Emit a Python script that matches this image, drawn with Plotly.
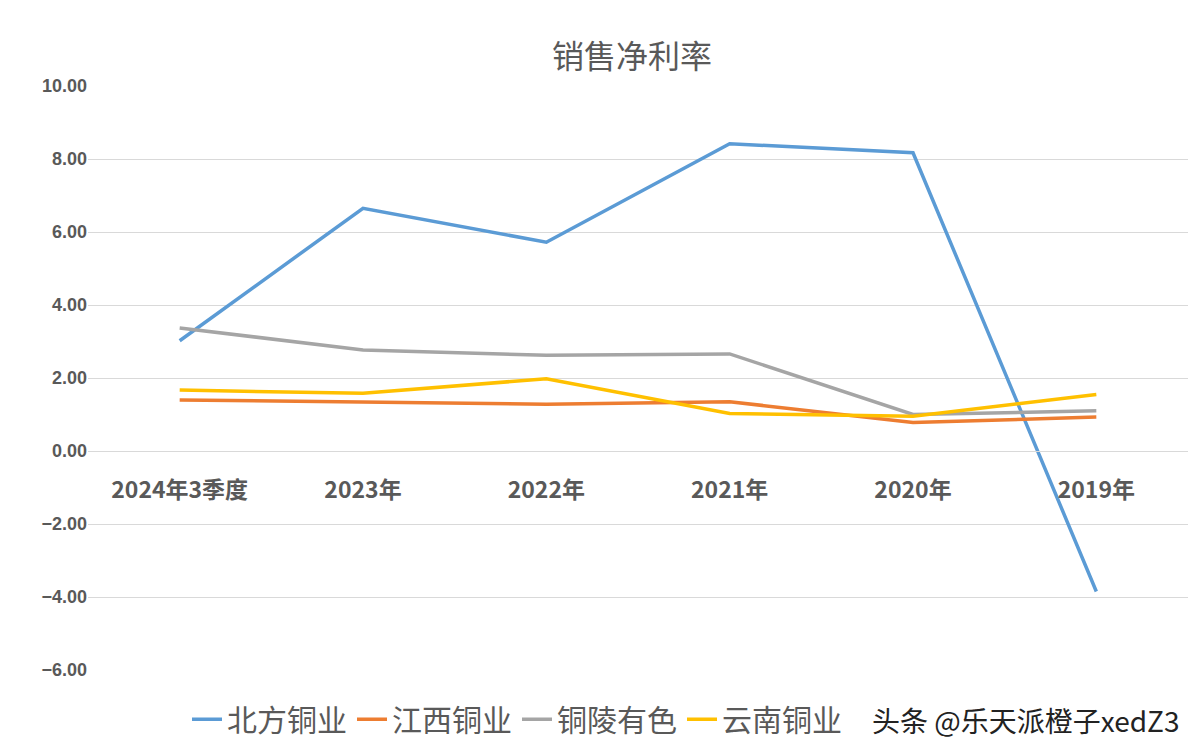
import plotly.graph_objects as go

categories = ['2024年3季度', '2023年', '2022年', '2021年', '2020年', '2019年']
beifang = [3.02, 6.65, 5.72, 8.42, 8.17, -3.85]
jiangxi = [1.40, 1.35, 1.28, 1.35, 0.78, 0.93]
tongling = [3.37, 2.77, 2.62, 2.66, 1.00, 1.10]
fourth = [1.67, 1.58, 1.98, 1.03, 0.95, 1.55]
y_ticks = [-6, -4, -2, 0, 2, 4, 6, 8, 10]

series = [
    ('北方铜业', beifang, '#5B9BD5'),
    ('江西铜业', jiangxi, '#ED7D31'),
    ('铜陵有色', tongling, '#A5A5A5'),
    ('云南铜业', fourth, '#FFC000'),
]

fig = go.Figure()
for name, vals, color in series:
    fig.add_trace(go.Scatter(x=categories, y=vals, name=name, mode='lines',
                             line=dict(color=color, width=3.5)))

fig.update_layout(
    width=1200, height=755,
    paper_bgcolor='white', plot_bgcolor='white',
    font=dict(family='Noto Sans CJK SC', color='#595959'),
    title=dict(text='销售净利率', x=0.52, y=0.95, xanchor='center',
               font=dict(size=32, color='#595959')),
    margin=dict(l=80, r=20, t=78, b=93),
    showlegend=True,
    legend=dict(orientation='h', x=0.09, y=-0.04, yanchor='top',
                font=dict(size=30, color='#595959'), traceorder='normal'),
    xaxis=dict(anchor='free', position=0.375, showgrid=False,
               showline=True, linecolor='#D9D9D9', linewidth=1,
               ticks='outside', ticklen=18, tickcolor='rgba(0,0,0,0)',
               tickfont=dict(size=23, color='#595959', family='Noto Sans CJK SC', weight='bold'),
               range=[-0.5, 5.5]),
    yaxis=dict(range=[-6, 10], tickvals=y_ticks, tickformat='.2f',
               showgrid=True, gridcolor='#D9D9D9', zeroline=False,
               tickfont=dict(size=18, color='#595959', family='Liberation Sans', weight='bold')),
)
fig.add_annotation(text='头条 @乐天派橙子xedZ3', xref='paper', yref='paper',
                   x=1.0, y=-0.086, xanchor='right', yanchor='middle', showarrow=False,
                   bgcolor='white', font=dict(size=28, color='#222222'),
                   borderpad=8)

fig.write_html('out.html')
